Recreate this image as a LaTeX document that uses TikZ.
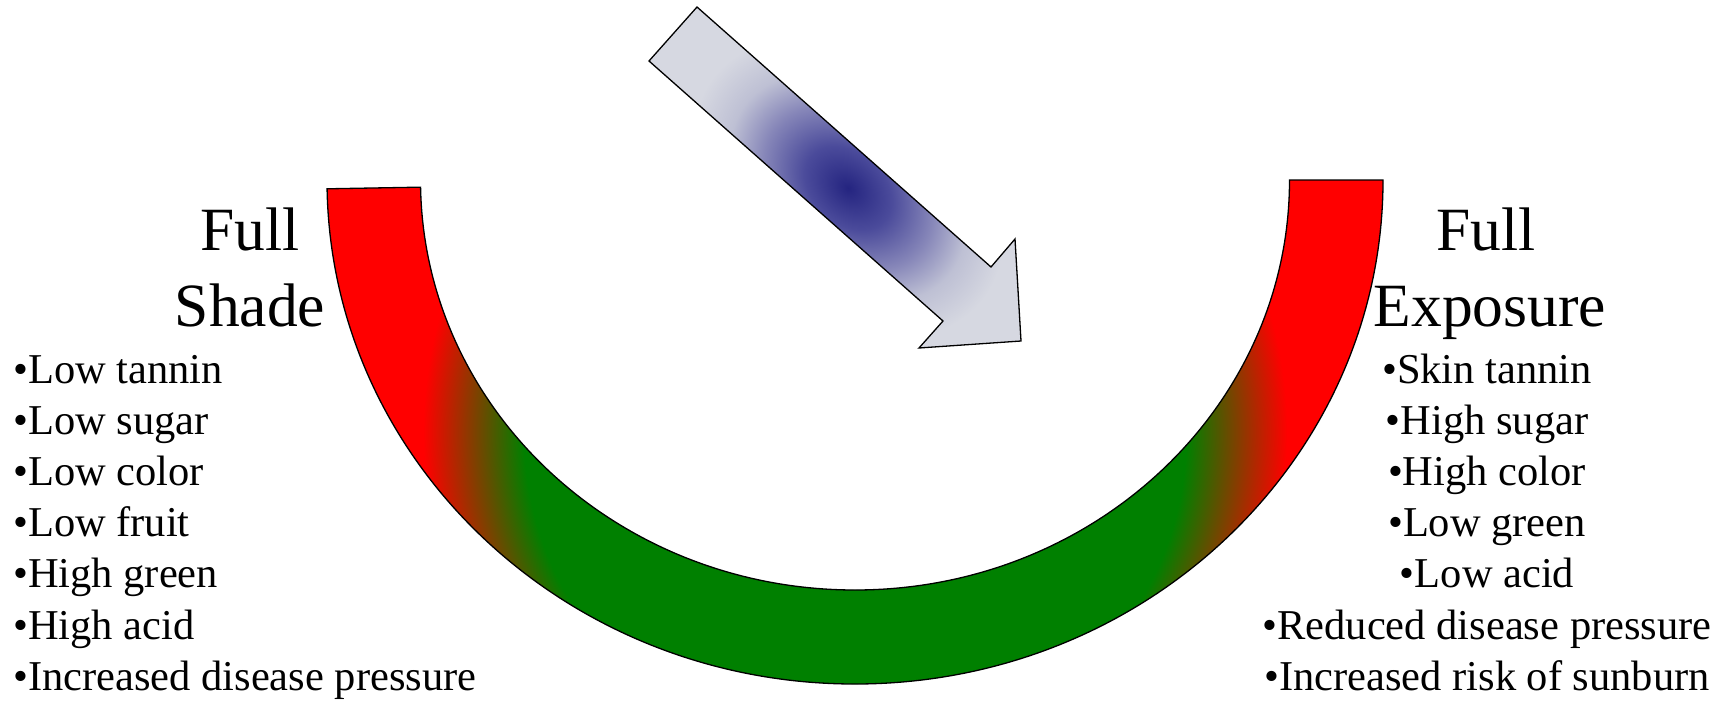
\documentclass[tikz,border=0pt]{standalone}
\usepackage{fontspec}
\setmainfont{Liberation Serif}
\definecolor{arcgreen}{RGB}{0,128,0}
\definecolor{arcred}{RGB}{255,0,0}
\definecolor{arrowdark}{RGB}{36,36,128}
\definecolor{arrowmidA}{RGB}{75,75,155}
\definecolor{arrowmidB}{RGB}{135,135,185}
\definecolor{arrowmidC}{RGB}{190,192,212}
\definecolor{arrowlight}{RGB}{214,216,225}
\pgfdeclareradialshading{arcrad}{\pgfpoint{0bp}{0bp}}{color(0bp)=(arcgreen); color(13.8bp)=(arcgreen); color(18bp)=(arcred); color(50bp)=(arcred)}
\pgfdeclareradialshading{arrowrad}{\pgfpoint{0bp}{0bp}}{color(0bp)=(arrowdark); color(7bp)=(arrowmidA); color(13.6bp)=(arrowmidB); color(19bp)=(arrowmidC); color(25bp)=(arrowlight); color(50bp)=(arrowlight)}
\tikzset{
  titletext/.style={font=\fontsize{61.5}{74}\selectfont, inner sep=0pt, anchor=base},
  leftitem/.style={font=\fontsize{42.5}{51.5}\selectfont, inner sep=0pt, anchor=base west},
  rightitem/.style={font=\fontsize{42.5}{51.5}\selectfont, inner sep=0pt, anchor=base},
  outline/.style={draw=black, line width=1.3pt, line join=miter},
}
\begin{document}
\begin{tikzpicture}[x=1pt,y=-1pt]
\useasboundingbox (0,0) rectangle (1728,701);
% ---- block arc with red-green-red gradient
\begin{scope}
  \clip (327.08,188.8) arc[start angle=179, end angle=0, x radius=528, y radius=504]
     -- (1289.5,180) arc[start angle=0, end angle=179, x radius=434.5, y radius=410] -- cycle;
  \shade[shading=arcrad] (855,432) circle[radius=600];
\end{scope}
\draw[outline] (327.08,188.8) arc[start angle=179, end angle=0, x radius=528, y radius=504]
     -- (1289.5,180) arc[start angle=0, end angle=179, x radius=434.5, y radius=410] -- cycle;
% ---- sun arrow
\fill[arrowlight] (697,7) -- (991,267) -- (1015,239) -- (1021,341) -- (919,348) -- (943,321) -- (649,61) -- cycle;
\begin{scope}
  \clip (697,7) -- (991,267) -- (1015,239) -- (1021,341) -- (919,348) -- (943,321) -- (649,61) -- cycle;
  \begin{scope}[shift={(848,188)}, rotate=-41.5]
    \pgflowlevelsynccm
    \shade[shading=arrowrad] (0,0) ellipse[x radius=175, y radius=126];
  \end{scope}
\end{scope}
\draw[outline] (697,7) -- (991,267) -- (1015,239) -- (1021,341) -- (919,348) -- (943,321) -- (649,61) -- cycle;
% ---- titles
\node[titletext] (fs1) at (250,250) {Full};
\node[titletext] (fs2) at (250,326.7) {Shade};
\node[titletext] (fe1) at (1486,250) {Full};
\node[titletext] (fe2) at (1490,326.7) {Exposure};
% ---- left list
\node[leftitem] (l1) at (13,383) {•Low tannin};
\node[leftitem] (l2) at (13,434.2) {•Low sugar};
\node[leftitem] (l3) at (13,485.4) {•Low color};
\node[leftitem] (l4) at (13,536.6) {•Low fruit};
\node[leftitem] (l5) at (13,587.8) {•High green};
\node[leftitem] (l6) at (13,639) {•High acid};
\node[leftitem] (l7) at (13,690.2) {•Increased disease pressure};
% ---- right list
\node[rightitem] (r1) at (1487,383) {•Skin tannin};
\node[rightitem] (r2) at (1487,434.2) {•High sugar};
\node[rightitem] (r3) at (1487,485.4) {•High color};
\node[rightitem] (r4) at (1487,536.6) {•Low green};
\node[rightitem] (r5) at (1487,587.8) {•Low acid};
\node[rightitem] (r6) at (1487,639) {•Reduced disease pressure};
\node[rightitem] (r7) at (1487,690.2) {•Increased risk of sunburn};
\end{tikzpicture}
\end{document}
